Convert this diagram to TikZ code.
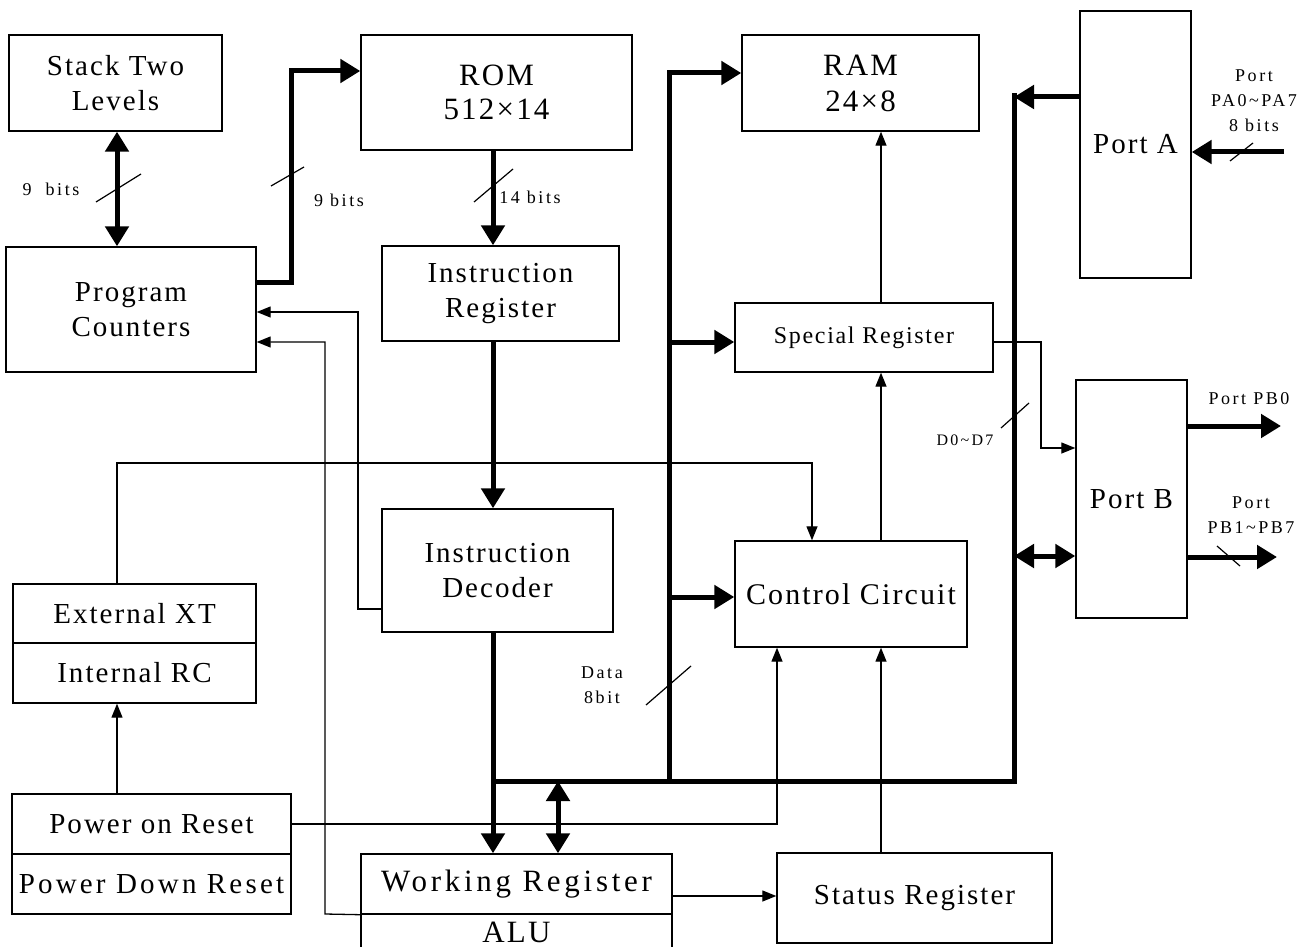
\documentclass[tikz,border=0pt]{standalone}
\usepackage{fontspec}
\setmainfont{Liberation Serif}[LetterSpace=7]
\newfontfamily\lblfont{Liberation Serif}[LetterSpace=14]
\usetikzlibrary{arrows.meta,positioning}

\tikzset{
  blk/.style={draw, line width=1.4pt, inner sep=0pt, align=center,
    font=\fontsize{29}{35}\selectfont},
  bus/.style={line width=5pt},
  busarr/.style={bus, -{Triangle[length=20pt,width=23pt]}},
  busdbl/.style={bus, {Triangle[length=20pt,width=23pt]}-{Triangle[length=20pt,width=23pt]}},
  sig/.style={line width=1.3pt, -{Triangle[length=14pt,width=11pt]}},
  tick/.style={line width=1.2pt},
  lbl/.style={font=\lblfont\fontsize{18}{25}\selectfont, align=center, inner sep=0pt},
}

\begin{document}
\begin{tikzpicture}[x=1pt,y=-1pt]

	\useasboundingbox (0,0) rectangle (1310,947);

	% blocks
	\node[blk, minimum width=213pt, minimum height=96pt] (STACK) at (115.5,83) {Stack Two\\Levels};
	\node[blk, minimum width=271pt, minimum height=115pt,
	  font=\fontsize{31}{34}\selectfont] (ROM) at (496.5,92.5) {ROM\\512×14};
	\node[blk, minimum width=237pt, minimum height=96pt,
	  font=\fontsize{31}{36}\selectfont] (RAM) at (860.5,83) {RAM\\24×8};
	\node[blk, minimum width=111pt, minimum height=267pt] (PORTA) at (1135.5,144.5) {Port A};
	\node[blk, minimum width=250pt, minimum height=125pt] (PC) at (131,309.5) {Program\\Counters};
	\node[blk, minimum width=237pt, minimum height=95pt] (IR) at (500.5,293.5) {Instruction\\Register};
	\node[blk, minimum width=258pt, minimum height=69pt,
	  font=\fontsize{24}{28}\selectfont] (SPR) at (864,337.5) {Special Register};
	\node[blk, minimum width=111pt, minimum height=238pt] (PORTB) at (1131.5,499) {Port B};
	\node[blk, minimum width=231pt, minimum height=123pt] (ID) at (497.5,570.5) {Instruction\\Decoder};
	\node[blk, minimum width=232pt, minimum height=106pt,
	  font=\fontsize{30}{35}\selectfont] (CC) at (851,594) {Control Circuit};
	\node[blk, minimum width=243pt, minimum height=59pt] (XT) at (134.5,613.5) {External XT};
	\node[blk, minimum width=243pt, minimum height=60pt] (RC) at (134.5,673) {Internal RC};
	\node[blk, minimum width=279pt, minimum height=60pt] (POR) at (151.5,824) {Power on Reset};
	\node[blk, minimum width=279pt, minimum height=60pt,
	  font=\addfontfeature{LetterSpace=11}\fontsize{29}{35}\selectfont] (PDR) at (151.5,884) {Power Down Reset};
	\node[blk, minimum width=311pt, minimum height=60pt,
	  font=\addfontfeature{LetterSpace=12}\fontsize{31}{36}\selectfont] (WR) at (516.5,884) {Working Register};
	\node[blk, minimum width=311pt, minimum height=36pt,
	  font=\fontsize{31}{36}\selectfont] (ALU) at (516.5,932) {ALU};
	\node[blk, minimum width=275pt, minimum height=90pt] (ST) at (914.5,898) {Status Register};
	% let the ALU box run off the lower edge
	\draw[line width=1.4pt] (ALU.south west) -- ++(0,20) (ALU.south east) -- ++(0,20);

	% bus corners
	\coordinate (colA) at (493,0);
	\coordinate (colB) at (881,0);
	\coordinate (busL) at (669,781);
	\coordinate (busW) at (493,781);
	\coordinate (busR) at (1014,781);
	\coordinate (busRtop) at (1014,93);
	\coordinate (busLtop) at (669,73);
	\coordinate (pcrom) at (291,71);

	% data bus
	\draw[bus] (busW) -- (busR) -- (busRtop);
	\draw[busarr] (busL) -- (busLtop) -- (busLtop -| RAM.west);
	\draw[busarr] (busL |- 0,342) -- (SPR.west |- 0,342);
	\draw[busarr] (busL |- 0,597) -- (CC.west |- 0,597);
	\draw[busarr] (PORTA.west |- 0,97) -- (busR |- 0,97);
	\draw[busdbl] (busR |- 0,556) -- (PORTB.west |- 0,556);
	\draw[busdbl] (558,781) -- (WR.north -| 558,0);

	% program path
	\draw[busdbl] (STACK.south -| 117,0) -- (PC.north -| 117,0);
	\draw[busarr] (PC.east |- 0,282) -| (pcrom) -- (pcrom -| ROM.west);
	\draw[busarr] (ROM.south -| colA) -- (IR.north -| colA);
	\draw[busarr] (IR.south -| colA) -- (ID.north -| colA);
	\draw[busarr] (ID.south -| colA) -- (WR.north -| colA);

	% ports
	\draw[busarr] (1284,152) -- (PORTA.east |- 0,152);
	\draw[busarr] (PORTB.east |- 0,426) -- (1281,426);
	\draw[busarr] (PORTB.east |- 0,557) -- (1277,557);

	% control lines
	\draw[sig] (SPR.north -| colB) -- (RAM.south -| colB);
	\draw[sig] (CC.north -| colB) -- (SPR.south -| colB);
	\draw[sig] (ST.north -| colB) -- (CC.south -| colB);
	\draw[sig] (WR.east |- 0,896) -- (ST.west |- 0,896);
	\draw[sig] (POR.east) -| (CC.south -| 777,0);
	\draw[sig] (POR.north -| 117,0) -- (RC.south -| 117,0);
	\draw[sig] (XT.north -| 117,0) -- (117,463) -- (812,463) -- (CC.north -| 812,0);
	\draw[sig] (ID.west |- 0,609) -- (358,609) -- (358,312) -- (PC.east |- 0,312);
	\draw[sig] (WR.south west) -- (325,914) -- (325,342) -- (PC.east |- 0,342);
	\draw[sig] (SPR.east |- 0,342) -- (1041,342) -- (1041,448) -- (PORTB.west |- 0,448);

	% bus width ticks
	\draw[tick] (96,202) -- (141,174);
	\draw[tick] (271,186) -- (304,167);
	\draw[tick] (474,202) -- (513,169);
	\draw[tick] (646,705) -- (691,666);
	\draw[tick] (1001,428) -- (1029,403);
	\draw[tick] (1230,161) -- (1253,143);
	\draw[tick] (1217,546) -- (1240,566);

	% labels
	\node[lbl] (l1) at (51,189) {9\ \ bits};
	\node[lbl] (l2) at (339,200) {9 bits};
	\node[lbl] (l3) at (530,197) {14 bits};
	\node[lbl] (l4) at (602,685) {Data\\8bit};
	\node[lbl, font=\lblfont\fontsize{16}{20}\selectfont] (l5) at (965,440) {D0\textasciitilde D7};
	\node[lbl] (l6) at (1254,101) {Port\\PA0\textasciitilde PA7\\8 bits};
	\node[lbl] (l7) at (1249,399) {Port PB0};
	\node[lbl] (l8) at (1251,515) {Port\\PB1\textasciitilde PB7};

\end{tikzpicture}
\end{document}
